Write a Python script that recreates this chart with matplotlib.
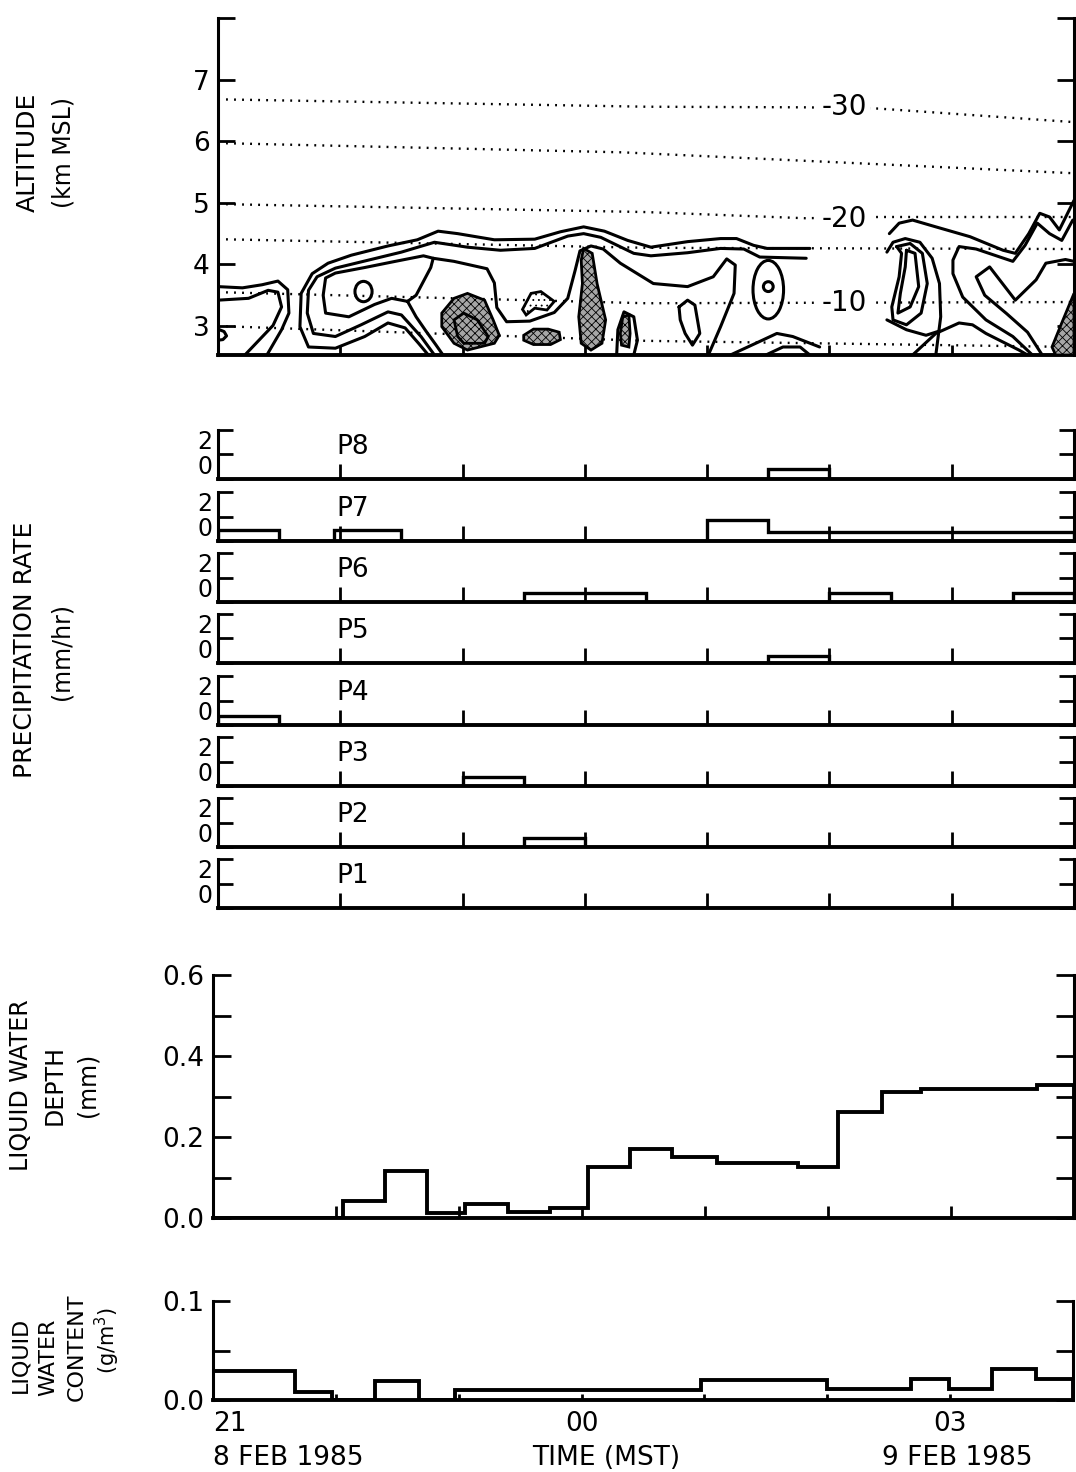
#!/usr/bin/env python3
"""
Sección tiempo-altura, precipitación, lámina y contenido de agua líquida
8-9 feb 1985 (21 a 04 MST)
"""

import numpy as np
import matplotlib.pyplot as plt
from matplotlib.patches import Polygon, Ellipse

# ============================================================================
# DATOS (tiempo en horas desde las 21 MST)
# ============================================================================

HOURS = [0, 1, 2, 3, 4, 5, 6, 7]
HOUR_LABELS = ['21', '', '', '00', '', '', '03', '']

# isotermas punteadas (altitud km MSL)
iso_a_t = [0.0, 3.5, 4.8, 5.4, 7.0]
iso_a_z = [6.68, 6.56, 6.55, 6.53, 6.31]
iso_b_t = [0.0, 3.3, 7.0]
iso_b_z = [5.97, 5.82, 5.48]
iso_c_t = [0.0, 3.5, 4.8, 5.4, 7.0]
iso_c_z = [4.98, 4.85, 4.75, 4.77, 4.77]
iso_d_t = [0.0, 3.5, 7.0]
iso_d_z = [4.41, 4.27, 4.25]
iso_e_t = [0.0, 3.5, 7.0]
iso_e_z = [3.55, 3.37, 3.39]
iso_f_t = [0.0, 3.5, 7.0]
iso_f_z = [3.00, 2.76, 2.66]

iso_labels = ['-30', '-20', '-10']
iso_label_t = [5.12, 5.12, 5.12]
iso_label_z = [6.55, 4.73, 3.37]

# contornos continuos
c_edge_out_t = [0.00, 0.20, 0.36, 0.49, 0.57, 0.58, 0.52, 0.40]
c_edge_out_z = [3.64, 3.62, 3.67, 3.73, 3.59, 3.21, 2.94, 2.53]
c_edge_in_t = [0.00, 0.25, 0.41, 0.49, 0.52, 0.45, 0.22]
c_edge_in_z = [3.42, 3.45, 3.58, 3.55, 3.31, 3.01, 2.53]
c_edge_dot_t = [0.00, 0.05, 0.07, 0.04, 0.00]
c_edge_dot_z = [2.95, 2.91, 2.84, 2.78, 2.77]

c_band1_t = [1.72, 1.64, 1.53, 1.39, 1.20, 0.96, 0.74, 0.67, 0.68, 0.77, 0.90,
             1.09, 1.39, 1.63, 1.80, 1.96, 2.26, 2.59, 2.80, 2.99, 3.16, 3.35,
             3.54, 3.84, 4.11, 4.24, 4.38, 4.49, 4.84]
c_band1_z = [2.53, 2.72, 2.97, 3.05, 2.83, 2.64, 2.66, 2.99, 3.53, 3.85, 4.02,
             4.15, 4.30, 4.40, 4.54, 4.50, 4.40, 4.41, 4.53, 4.61, 4.54, 4.39,
             4.28, 4.37, 4.42, 4.42, 4.31, 4.26, 4.26]
c_band2_t = [1.77, 1.66, 1.50, 1.39, 1.17, 0.96, 0.78, 0.73, 0.74, 0.81, 0.96,
             1.23, 1.50, 1.77, 2.04, 2.31, 2.59, 2.86, 2.99, 3.13, 3.40, 3.54,
             3.84, 4.11, 4.30, 4.43, 4.81]
c_band2_z = [2.53, 2.83, 3.18, 3.23, 3.02, 2.83, 2.88, 3.21, 3.58, 3.80, 3.94,
             4.07, 4.20, 4.36, 4.28, 4.23, 4.26, 4.46, 4.50, 4.44, 4.18, 4.14,
             4.19, 4.26, 4.25, 4.12, 4.10]

c_inner_t = [1.55, 1.42, 1.28, 1.07, 0.88, 0.86, 0.88, 0.96, 1.20, 1.45, 1.68,
             1.76, 1.74, 1.70, 1.66, 1.62, 1.55]
c_inner_z = [3.40, 3.45, 3.35, 3.15, 3.21, 3.50, 3.78, 3.86, 3.95, 4.05, 4.14,
             4.10, 3.95, 3.80, 3.65, 3.50, 3.40]
c_tail_t = [1.55, 1.62, 1.70, 1.78, 1.84]
c_tail_z = [3.40, 3.15, 2.92, 2.70, 2.53]

c_mid_t = [1.76, 1.93, 2.20, 2.26, 2.28, 2.36, 2.55, 2.75, 2.86, 2.92, 2.96,
           3.05, 3.15, 3.29, 3.56, 3.84, 4.05, 4.16, 4.23, 4.22, 4.11, 4.01]
c_mid_z = [4.10, 4.05, 3.93, 3.70, 3.30, 3.07, 3.08, 3.22, 3.45, 3.90, 4.22,
           4.30, 4.25, 4.02, 3.69, 3.64, 3.80, 4.09, 3.99, 3.53, 2.99, 2.53]

c_ring_e_t = [3.26, 3.27, 3.32, 3.40, 3.43, 3.40]
c_ring_e_z = [2.53, 2.94, 3.23, 3.15, 2.77, 2.53]
c_lobe_t = [3.77, 3.84, 3.90, 3.94, 3.88, 3.82, 3.78, 3.77]
c_lobe_z = [3.31, 3.42, 3.34, 2.88, 2.69, 2.88, 3.10, 3.31]
c_low1_t = [4.19, 4.43, 4.57, 4.70, 4.92]
c_low1_z = [2.53, 2.75, 2.88, 2.83, 2.66]
c_low2_t = [4.48, 4.62, 4.76, 4.84]
c_low2_z = [2.53, 2.66, 2.66, 2.53]

c_right1_t = [5.49, 5.57, 5.68, 5.87, 6.15, 6.42, 6.52, 6.63, 6.72, 6.80, 6.88,
              6.96, 7.00]
c_right1_z = [4.50, 4.67, 4.72, 4.61, 4.45, 4.23, 4.18, 4.50, 4.83, 4.77, 4.56,
              4.88, 5.04]
c_right2_t = [6.99, 6.90, 6.80, 6.70, 6.60, 6.50, 6.35, 6.20, 6.06, 6.01, 6.01,
              6.09, 6.28, 6.50, 6.66]
c_right2_z = [4.72, 4.39, 4.50, 4.67, 4.31, 4.05, 4.15, 4.25, 4.29, 4.07, 3.85,
              3.47, 3.10, 2.83, 2.53]
c_right3_t = [6.74, 6.62, 6.45, 6.27, 6.20, 6.31, 6.52, 6.69, 6.77, 6.93, 7.00]
c_right3_z = [2.53, 2.90, 3.20, 3.50, 3.80, 3.96, 3.42, 3.75, 4.02, 4.08, 4.05]
c_loop_a_t = [5.55, 5.66, 5.76, 5.80, 5.75, 5.63, 5.52, 5.51, 5.57, 5.59, 5.55]
c_loop_a_z = [4.29, 4.34, 4.18, 3.69, 3.21, 3.02, 3.10, 3.31, 3.80, 4.18, 4.29]
c_loop_b_t = [5.63, 5.70, 5.73, 5.66, 5.56, 5.58, 5.62, 5.63]
c_loop_b_z = [4.23, 4.18, 3.64, 3.31, 3.21, 3.53, 3.96, 4.23]
c_arc_t = [5.47, 5.52, 5.62, 5.74, 5.84, 5.90, 5.91, 5.87]
c_arc_z = [4.20, 4.36, 4.42, 4.36, 4.10, 3.69, 3.15, 2.53]
c_base1_t = [5.47, 5.63, 5.79, 5.90]
c_base1_z = [3.10, 2.94, 2.85, 2.92]
c_base2_t = [5.68, 5.87, 6.06, 6.17, 6.28, 6.55, 6.62]
c_base2_z = [2.53, 2.88, 3.05, 3.02, 2.88, 2.61, 2.53]

# contornos cerrados pequeños (centro t, centro z, ancho h, alto km)
ring_t = [1.19, 4.50, 4.50]
ring_z = [3.56, 3.59, 3.64]
ring_w = [0.14, 0.25, 0.08]
ring_h = [0.33, 0.95, 0.16]

# zonas sombreadas
blob_a_t = [1.83, 1.93, 2.04, 2.18, 2.25, 2.30, 2.26, 2.04, 1.93, 1.83]
blob_a_z = [3.21, 3.45, 3.53, 3.42, 3.10, 2.85, 2.72, 2.61, 2.72, 2.99]
blob_a2_t = [1.93, 2.01, 2.12, 2.21, 2.18, 2.01, 1.96]
blob_a2_z = [3.10, 3.21, 3.10, 2.83, 2.72, 2.72, 2.83]
blob_c_t = [2.50, 2.58, 2.70, 2.79, 2.80, 2.72, 2.58, 2.50]
blob_c_z = [2.85, 2.95, 2.95, 2.90, 2.78, 2.70, 2.70, 2.77]
blob_d_t = [2.99, 3.06, 3.10, 3.17, 3.14, 3.05, 2.97, 2.95, 2.98, 2.97]
blob_d_z = [4.26, 4.18, 3.69, 3.10, 2.72, 2.61, 2.72, 3.15, 3.69, 4.07]
blob_e_t = [3.31, 3.36, 3.37, 3.36, 3.30, 3.29]
blob_e_z = [3.15, 3.18, 2.88, 2.66, 2.69, 2.88]
blob_f_t = [6.82, 6.91, 7.00, 7.00, 6.85]
blob_f_z = [2.66, 3.10, 3.53, 2.53, 2.53]
# zona de punteado claro
blob_b_t = [2.49, 2.56, 2.64, 2.75, 2.69, 2.59, 2.52]
blob_b_z = [3.27, 3.53, 3.56, 3.40, 3.26, 3.29, 3.18]

# precipitación (mm/hr), escalones por pluviómetro
p8_edges = [4.5, 5.0]
p8_vals = [0.40]
p7_edges = [0.0, 0.5, 0.95, 1.5, 4.0, 4.5, 7.0]
p7_vals = [0.45, 0.0, 0.45, 0.0, 0.85, 0.35]
p6_edges = [2.5, 3.5, 5.0, 5.5, 6.5, 7.0]
p6_vals = [0.35, 0.0, 0.37, 0.0, 0.37]
p5_edges = [4.5, 5.0]
p5_vals = [0.30]
p4_edges = [0.0, 0.5]
p4_vals = [0.37]
p3_edges = [2.0, 2.5]
p3_vals = [0.37]
p2_edges = [2.5, 3.0]
p2_vals = [0.37]
p1_edges = []
p1_vals = []
gauge_names = ['P8', 'P7', 'P6', 'P5', 'P4', 'P3', 'P2', 'P1']

# lámina de agua líquida (mm)
lwd_edges = [0.0, 1.06, 1.40, 1.74, 2.05, 2.40, 2.74, 3.05, 3.39, 3.73, 4.10,
             4.76, 5.08, 5.44, 5.76, 6.70, 7.0]
lwd_vals = [0.0, 0.042, 0.116, 0.012, 0.035, 0.015, 0.025, 0.126, 0.170, 0.150,
            0.136, 0.126, 0.262, 0.310, 0.318, 0.328]

# contenido de agua líquida (g/m3)
lwc_edges = [0.0, 0.67, 0.97, 1.32, 1.68, 1.97, 3.97, 5.0, 5.68, 5.99, 6.34,
             6.70, 7.0]
lwc_vals = [0.029, 0.008, 0.0, 0.019, 0.0, 0.010, 0.020, 0.011, 0.021, 0.011,
            0.031, 0.021]

# ============================================================================
# UTILIDADES
# ============================================================================

W, H = 1076, 1472


def caja(left, top, right, bottom):
    """Caja en píxeles -> fracción de figura."""
    return [left / W, 1 - bottom / H, (right - left) / W, (bottom - top) / H]


def fig_text(fig, x, y, s, size=17, **kw):
    fig.text(x / W, 1 - y / H, s, fontsize=size, rotation=90,
             ha='center', va='center', **kw)


def estilo(ax, ylen, xlen):
    ax.spines['top'].set_visible(False)
    for s in ['left', 'right', 'bottom']:
        ax.spines[s].set_linewidth(2.2)
    ax.spines['bottom'].set_linewidth(2.8)
    ax.tick_params(axis='y', direction='in', left=True, right=True,
                   length=ylen, width=2.0, labelsize=19, pad=6)
    ax.tick_params(axis='x', direction='in', length=xlen, width=2.0,
                   labelsize=19)
    ax.set_xlim(0, 7)


# ============================================================================
# PANELES
# ============================================================================

def panel_altitud(fig):
    ax = fig.add_axes(caja(218, 18, 1074, 355))
    estilo(ax, 12, 7)
    ax.set_ylim(2.53, 8.0)
    ax.set_yticks([3, 4, 5, 6, 7, 8])
    ax.set_yticklabels(['3', '4', '5', '6', '7', ''])
    ax.set_xticks(HOURS[1:-1])
    ax.set_xticklabels([])

    isotermas = [(iso_a_t, iso_a_z), (iso_b_t, iso_b_z), (iso_c_t, iso_c_z),
                 (iso_d_t, iso_d_z), (iso_e_t, iso_e_z), (iso_f_t, iso_f_z)]
    for t, z in isotermas:
        ax.plot(t, z, color='k', lw=1.7, ls=(0, (0.8, 2.6)))
    for s, t, z in zip(iso_labels, iso_label_t, iso_label_z):
        ax.text(t, z, s, fontsize=20, ha='center', va='center', zorder=4,
                bbox=dict(boxstyle='square,pad=0.12', fc='white', ec='none'))

    sombras = [(blob_a_t, blob_a_z), (blob_a2_t, blob_a2_z), (blob_c_t, blob_c_z),
               (blob_d_t, blob_d_z), (blob_e_t, blob_e_z), (blob_f_t, blob_f_z)]
    for t, z in sombras:
        ax.add_patch(Polygon(np.column_stack([t, z]), closed=True, fc='#a6a6a6',
                             ec='k', lw=2.0, hatch='xxxx', zorder=3))
    ax.add_patch(Polygon(np.column_stack([blob_b_t, blob_b_z]), closed=True,
                         fc='white', ec='k', lw=2.0, hatch='...', zorder=3))

    contornos = [(c_edge_out_t, c_edge_out_z), (c_edge_in_t, c_edge_in_z),
                 (c_edge_dot_t, c_edge_dot_z), (c_band1_t, c_band1_z),
                 (c_band2_t, c_band2_z), (c_inner_t, c_inner_z),
                 (c_tail_t, c_tail_z), (c_mid_t, c_mid_z),
                 (c_ring_e_t, c_ring_e_z), (c_lobe_t, c_lobe_z),
                 (c_low1_t, c_low1_z), (c_low2_t, c_low2_z),
                 (c_right1_t, c_right1_z), (c_right2_t, c_right2_z),
                 (c_right3_t, c_right3_z), (c_loop_a_t, c_loop_a_z),
                 (c_loop_b_t, c_loop_b_z), (c_arc_t, c_arc_z),
                 (c_base1_t, c_base1_z), (c_base2_t, c_base2_z)]
    for t, z in contornos:
        ax.plot(t, z, color='k', lw=2.2, solid_joinstyle='round',
                solid_capstyle='round', zorder=2)
    for t, z, w, h in zip(ring_t, ring_z, ring_w, ring_h):
        ax.add_patch(Ellipse((t, z), w, h, fill=False, ec='k', lw=2.2, zorder=2))

    fig_text(fig, 28, 152, 'ALTITUDE', size=18)
    fig_text(fig, 64, 152, '(km MSL)', size=17)


def panel_precipitacion(fig):
    bases = [479, 541, 602, 663, 725, 786, 847, 908]
    datos = [(p8_edges, p8_vals), (p7_edges, p7_vals), (p6_edges, p6_vals),
             (p5_edges, p5_vals), (p4_edges, p4_vals), (p3_edges, p3_vals),
             (p2_edges, p2_vals), (p1_edges, p1_vals)]
    for base, nombre, (edges, vals) in zip(bases, gauge_names, datos):
        ax = fig.add_axes(caja(218, base - 49, 1074, base))
        estilo(ax, 11, 11)
        ax.set_ylim(0, 2)
        ax.set_yticks([0, 1, 2])
        ax.set_yticklabels(['0', '', '2'])
        labs = ax.get_yticklabels()
        labs[0].set_va('bottom')
        labs[2].set_va('top')
        ax.tick_params(axis='y', labelsize=17, pad=4)
        ax.set_xticks(HOURS[1:-1])
        ax.set_xticklabels([])
        if len(vals):
            ax.stairs(vals, edges, baseline=0, color='k', lw=2.4)
        ax.text(0.97, 1.3, nombre, fontsize=19, ha='left', va='center')

    fig_text(fig, 25, 650, 'PRECIPITATION RATE', size=18)
    fig_text(fig, 62, 652, '(mm/hr)', size=17)


def panel_lamina(fig):
    ax = fig.add_axes(caja(213, 975, 1074, 1218))
    estilo(ax, 13, 9)
    ax.set_ylim(0, 0.6)
    ax.set_yticks([0, 0.1, 0.2, 0.3, 0.4, 0.5, 0.6])
    ax.set_yticklabels(['0.0', '', '0.2', '', '0.4', '', '0.6'])
    ax.set_xticks(HOURS[1:-1])
    ax.set_xticklabels([])
    ax.stairs(lwd_vals, lwd_edges, baseline=0, color='k', lw=2.8)

    fig_text(fig, 21, 1085, 'LIQUID WATER', size=17)
    fig_text(fig, 55, 1085, 'DEPTH', size=17)
    fig_text(fig, 87, 1085, '(mm)', size=17)


def panel_contenido(fig):
    ax = fig.add_axes(caja(213, 1301, 1073, 1400))
    estilo(ax, 12, 4)
    ax.set_ylim(0, 0.1)
    ax.set_yticks([0, 0.05, 0.1])
    ax.set_yticklabels(['0.0', '', '0.1'])
    ax.set_xticks(HOURS)
    ax.set_xticklabels(HOUR_LABELS)
    ax.tick_params(axis='x', pad=8, labelsize=19)
    ax.get_xticklabels()[0].set_ha('left')
    ax.stairs(lwc_vals, lwc_edges, baseline=0, color='k', lw=2.8)

    trans = ax.get_xaxis_transform()
    y_fila = (1400 - 1458) / 99
    ax.text(0.0, y_fila, '8 FEB 1985', transform=trans, fontsize=19,
            ha='left', va='center')
    ax.text(3.2, y_fila, 'TIME (MST)', transform=trans, fontsize=19,
            ha='center', va='center')
    ax.text(6.06, y_fila, '9 FEB 1985', transform=trans, fontsize=19,
            ha='center', va='center')

    fig_text(fig, 20, 1355, 'LIQUID', size=16)
    fig_text(fig, 48, 1357, 'WATER', size=16)
    fig_text(fig, 77, 1347, 'CONTENT', size=16)
    fig_text(fig, 107, 1340, '(g/m$^3$)', size=15)


# ============================================================================
# FUNCIÓN PRINCIPAL
# ============================================================================

def main():
    plt.rcParams['font.family'] = ['DejaVu Sans']
    plt.rcParams['hatch.linewidth'] = 0.6
    plt.rcParams['mathtext.default'] = 'regular'

    fig = plt.figure(figsize=(W / 100, H / 100), dpi=100)
    panel_altitud(fig)
    panel_precipitacion(fig)
    panel_lamina(fig)
    panel_contenido(fig)
    fig.savefig('out.png', dpi=100)


if __name__ == '__main__':
    main()
